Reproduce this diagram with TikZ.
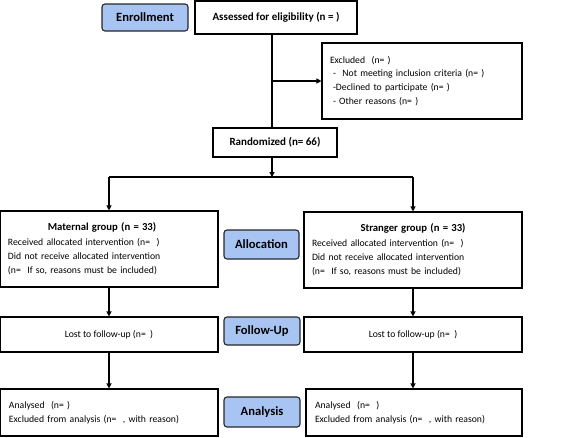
\documentclass[tikz,border=0pt]{standalone}
\usepackage{fontspec}
\setmainfont{Carlito}
\usetikzlibrary{arrows.meta}
\definecolor{stageblue}{RGB}{168,196,242}
\tikzset{
  box/.style={draw=black, line width=1.1pt, fill=white, inner sep=0pt, font=\fontsize{9.7}{14.4}\selectfont},
  textbox/.style={box, align=left, inner xsep=8pt},
  boldbox/.style={box, font=\fontsize{11}{13}\selectfont\bfseries},
  stage/.style={draw=black!85, line width=1.1pt, rounded corners=3pt, fill=stageblue, inner sep=0pt, font=\fontsize{12.6}{14}\selectfont\bfseries},
  conn/.style={line width=1.1pt},
  arr/.style={conn, -{Triangle[length=5pt,width=5pt]}},
}
\begin{document}
\begin{tikzpicture}[x=1pt,y=-1pt]
\useasboundingbox (0,0) rectangle (569,437);
% stage labels
\node[stage, minimum width=86pt, minimum height=27pt] (enr) at (145,17.5) {Enrollment};
\node[stage, minimum width=75pt, minimum height=29pt] (alloc) at (261.5,244.5) {Allocation};
\node[stage, minimum width=76pt, minimum height=28pt] (fu) at (262,331) {Follow-Up};
\node[stage, minimum width=76pt, minimum height=30pt] (ana) at (262,412) {Analysis};
% top boxes
\node[boldbox, minimum width=162pt, minimum height=33pt] (assess) at (276,17.5) {Assessed for eligibility (n = )};
\node[textbox, text width=184pt, minimum width=200pt, minimum height=76pt] (excl) at (422,81) {Excluded\ \ (n= )\\[-0.5pt]
\hspace{3pt}-\ \ Not meeting inclusion criteria (n= )\\[-0.5pt]
\hspace{3pt}-Declined to participate (n= )\\[-0.5pt]
\hspace{3pt}- Other reasons (n= )};
\node[boldbox, minimum width=124pt, minimum height=29pt] (rand) at (275,142.5) {Randomized (n= 66)};
% allocation
\node[textbox, text width=202pt, minimum width=218pt, minimum height=76pt] (mat) at (109,249) {\makebox[188pt][c]{\fontsize{10.7}{13}\selectfont\bfseries Maternal group (n = 33)}\\
Received allocated intervention (n=\ \ )\\
Did not receive allocated intervention\\
(n=\ \ If so, reasons must be included)};
\node[textbox, text width=202pt, minimum width=218pt, minimum height=76pt] (str) at (413,250) {\makebox[202pt][c]{\fontsize{10.7}{13}\selectfont\bfseries Stranger group (n = 33)}\\
Received allocated intervention (n=\ \ )\\
Did not receive allocated intervention\\
(n=\ \ If so, reasons must be included)};
% follow-up
\node[box, minimum width=218pt, minimum height=35pt] (mfu) at (109,334.5) {Lost to follow-up (n=\ \ )};
\node[box, minimum width=218pt, minimum height=35pt] (sfu) at (413,334.5) {Lost to follow-up (n=\ \ )};
% analysis
\node[textbox, text width=200pt, minimum width=218pt, minimum height=47pt] (man) at (109,412.5) {Analysed\ \ (n= )\\
Excluded from analysis (n=\ \ , with reason)};
\node[textbox, text width=198pt, minimum width=216pt, minimum height=47pt] (san) at (414,412.5) {Analysed\ \ (n=\ \ )\\
Excluded from analysis (n=\ \ , with reason)};
% connectors
\coordinate (spine) at (272,0);
\coordinate (split) at (272,177);
\draw[conn] (assess.south -| spine) -- (rand.north -| spine);
\draw[arr] (excl.west -| spine) -- (excl.west);
\draw[arr] (rand.south -| spine) -- (split);
\draw[conn] (mat.north |- split) -- (str.north |- split);
\draw[arr] (mat.north |- split) -- (mat.north);
\draw[arr] (str.north |- split) -- (str.north);
\draw[arr] (mat.south) -- (mfu.north);
\draw[arr] (str.south) -- (sfu.north);
\draw[arr] (mfu.south) -- (man.north);
\draw[arr] (sfu.south) -- (sfu.south |- san.north);
\end{tikzpicture}
\end{document}
